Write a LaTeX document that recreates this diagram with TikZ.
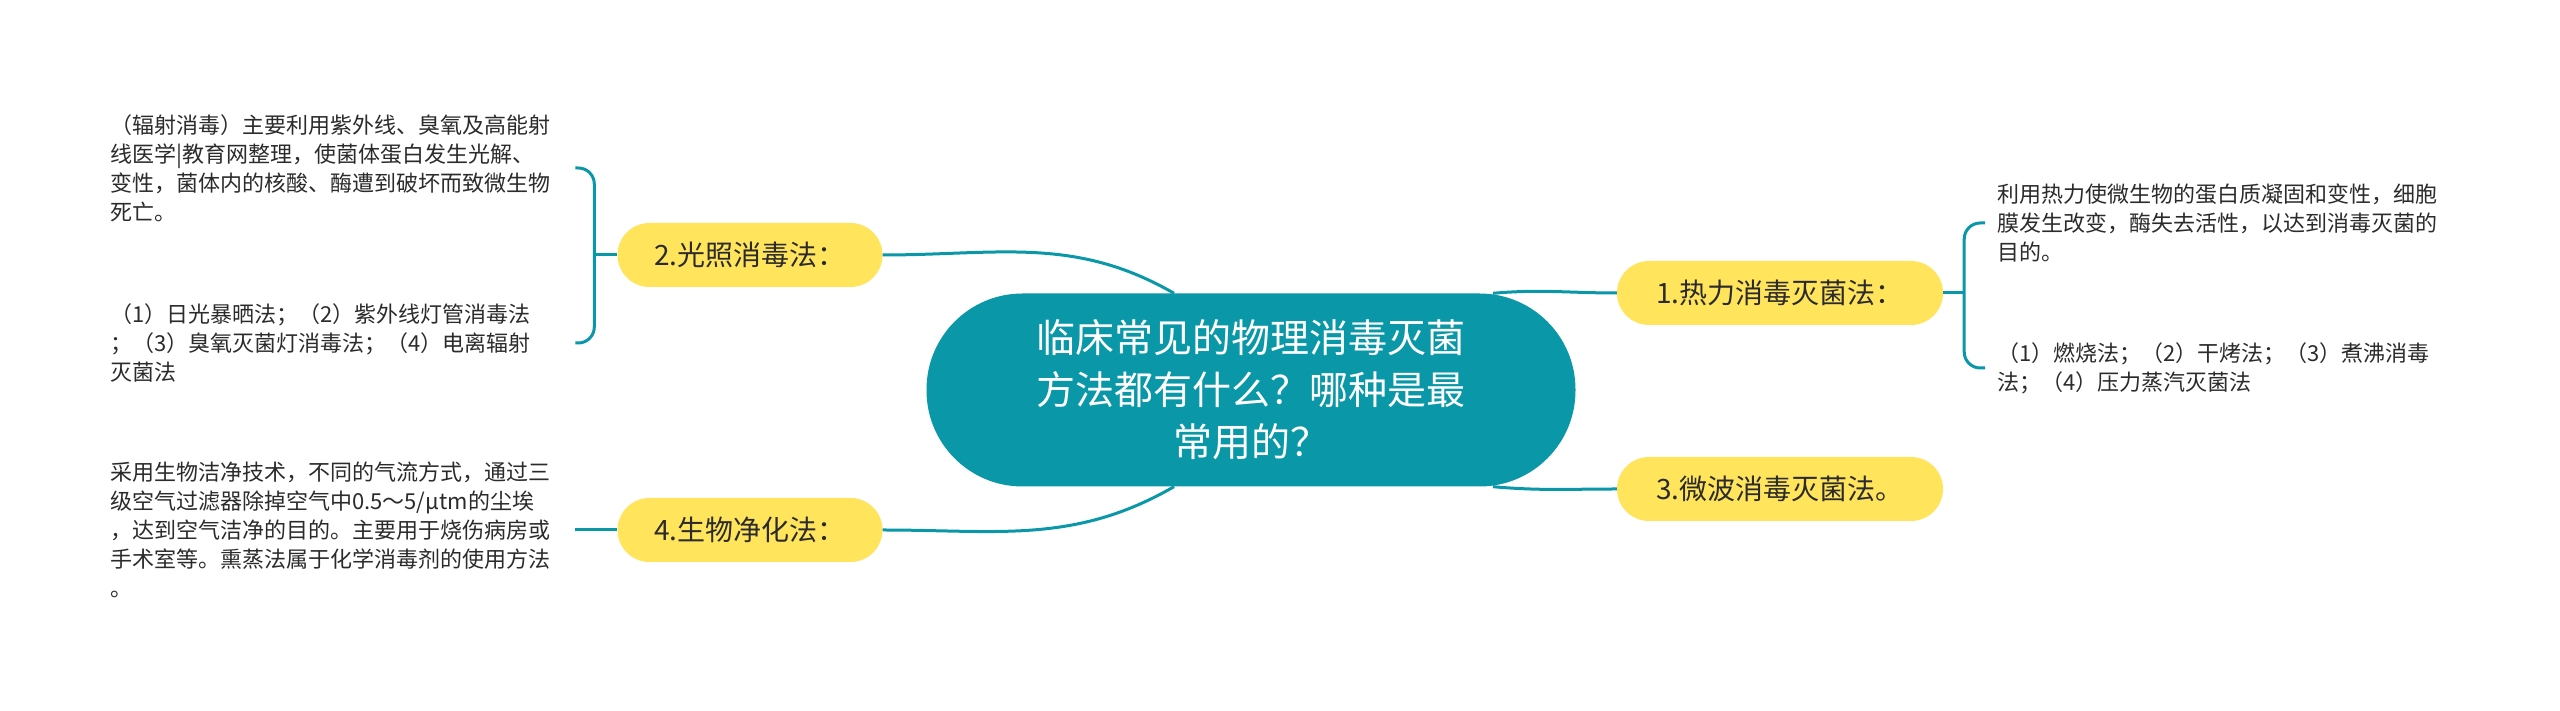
\documentclass[tikz,border=0pt]{standalone}
\usepackage{fontspec}
\setmainfont{Noto Sans CJK SC}
\usetikzlibrary{positioning}
\definecolor{mapteal}{HTML}{0A98A8}
\definecolor{mapyellow}{HTML}{FFE45C}
\definecolor{inkgray}{HTML}{2B2B2B}
\begin{document}
\begin{tikzpicture}[x=1pt, y=1pt,
    topic/.style={fill=mapyellow, rounded corners=32pt, minimum height=64pt, inner sep=0pt, text=inkgray, font=\fontsize{28}{34}\selectfont},
    leaf/.style={anchor=west, text width=465pt, align=left, inner sep=0pt, text=inkgray, font=\fontsize{22}{29}\selectfont},
    link/.style={draw=mapteal, line width=3pt}]
    \useasboundingbox (0,0) rectangle (2560,711);
    \fill[white] (0,0) rectangle (2560,711);

    % Central topic
    \node[fill=mapteal, rounded corners=96pt, minimum width=649pt, minimum height=193pt, align=center, text=white, font=\fontsize{39}{52}\selectfont] (root) at (1251,321) {临床常见的物理消毒灭菌\\方法都有什么？哪种是最\\常用的？};

    % Main branches
    \node[topic, minimum width=326pt] (heat) at (1780,418) {1.热力消毒灭菌法：};
    \node[topic, minimum width=265pt] (light) at (750,456) {2.光照消毒法：};
    \node[topic, minimum width=326pt] (wave) at (1780,222) {3.微波消毒灭菌法。};
    \node[topic, minimum width=265pt] (clean) at (750,181) {4.生物净化法：};

    % Leaves
    \node[leaf] (lightA) at (110,543) {（辐射消毒）主要利用紫外线、臭氧及高能射\\线医学|教育网整理，使菌体蛋白发生光解、\\变性，菌体内的核酸、酶遭到破坏而致微生物\\死亡。};
    \node[leaf] (lightB) at (110,368) {（1）日光暴晒法；（2）紫外线灯管消毒法\\；（3）臭氧灭菌灯消毒法；（4）电离辐射\\灭菌法};
    \node[leaf] (cleanA) at (110,181) {采用生物洁净技术，不同的气流方式，通过三\\级空气过滤器除掉空气中0.5～5/μtm的尘埃\\，达到空气洁净的目的。主要用于烧伤病房或\\手术室等。熏蒸法属于化学消毒剂的使用方法\\。};
    \node[leaf] (heatA) at (1997,488) {利用热力使微生物的蛋白质凝固和变性，细胞\\膜发生改变，酶失去活性，以达到消毒灭菌的\\目的。};
    \node[leaf] (heatB) at (1997,343) {（1）燃烧法；（2）干烤法；（3）煮沸消毒\\法；（4）压力蒸汽灭菌法};

    % Links from the centre
    \draw[link] ([xshift=-77pt]root.north) to[out=150, in=0] (light.east);
    \draw[link] ([xshift=-77pt]root.south) to[out=210, in=0] (clean.east);
    \draw[link] ([xshift=242pt]root.north) to[out=5, in=180] (heat.west);
    \draw[link] ([xshift=242pt]root.south) to[out=-5, in=180] (wave.west);

    % Brackets
    \coordinate (lightJ) at ([xshift=-23pt]light.west);
    \draw[link] (light.west) -- (lightJ);
    \draw[link, rounded corners=16pt] (lightA.east) -| (lightJ) |- (lightB.east);
    \draw[link] (clean.west) -- (cleanA.east);
    \coordinate (heatJ) at ([xshift=21pt]heat.east);
    \draw[link] (heat.east) -- (heatJ);
    \draw[link, rounded corners=16pt] ([xshift=-12pt]heatA.west) -| (heatJ) |- ([xshift=-12pt]heatB.west);
\end{tikzpicture}
\end{document}
